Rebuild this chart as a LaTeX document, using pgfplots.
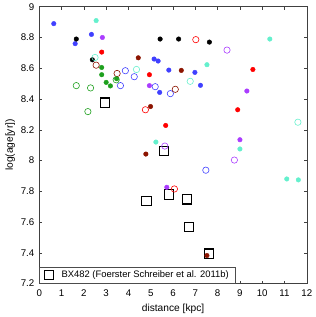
\documentclass[border=0pt]{standalone}
\usepackage{pgfplots}
\pgfplotsset{compat=1.18}
\usepackage{fontspec}
\setmainfont{Liberation Sans}
\definecolor{mblue}{RGB}{64,64,255}
\definecolor{mcyan}{RGB}{100,240,205}
\definecolor{mpurple}{RGB}{170,60,255}
\definecolor{mred}{RGB}{255,0,0}
\definecolor{mbrown}{RGB}{140,20,0}
\definecolor{mgreen}{RGB}{30,160,30}
\begin{document}
\begin{tikzpicture}
\begin{axis}[name=ax,
  scale only axis, width=269bp, height=278.3bp,
  xmin=0, xmax=12, ymin=7.2, ymax=9,
  xtick={0,1,...,12}, ytick={7.2,7.4,...,9.01},
  /pgf/number format/assume math mode=true,
  tick align=inside, tick pos=both,
  major tick length=3bp,
  axis line style={black!75, line width=0.6pt},
  tick style={black!75, line width=0.5pt},
  ticklabel style={font=\fontsize{9.8}{11}\selectfont},
  xticklabel style={yshift=-2.5bp},
  yticklabel style={xshift=-1.5bp, /pgf/number format/.cd, fixed, precision=1},
  label style={font=\fontsize{10.3}{12}\selectfont},
  xlabel={distance [kpc]}, ylabel={log(age[yr])},
  xlabel style={yshift=-1bp},
  ylabel style={yshift=-1bp},
  legend style={at={(0,0)}, anchor=south west, draw=black!70, line width=0.5pt,
    font=\fontsize{9.5}{10.5}\selectfont, inner xsep=5bp, inner ysep=2bp,
    /tikz/every odd column/.append style={column sep=6bp}},
  legend cell align=left,
]
\addplot[only marks, mark=square, mark size=4.6bp, line width=1.1pt, black] coordinates {
(2.94,8.377)(5.60,8.06)(4.81,7.738)(5.82,7.779)(6.62,7.747)(6.71,7.566)(7.60,7.395)};
\addlegendentry{BX482 (Foerster Schreiber et al. 2011b)}
% filled
\addplot[forget plot, only marks, mark=*, mark size=2.3bp, mblue, mark options={draw=mblue, fill=mblue}] coordinates {
(0.65,8.89)(1.61,8.76)(2.34,8.82)(5.15,8.66)(5.33,8.647)(5.81,8.588)(5.40,8.443)(6.98,8.573)(7.23,8.489)};
\addplot[forget plot, only marks, mark=*, mark size=2.3bp, mcyan, mark options={draw=mcyan, fill=mcyan}] coordinates {
(2.55,8.91)(10.34,8.79)(7.52,8.623)(5.23,8.12)(9.0,8.075)(11.1,7.88)(11.62,7.874)};
\addplot[forget plot, only marks, mark=*, mark size=2.3bp, black, mark options={draw=black, fill=black}] coordinates {
(1.66,8.79)(2.38,8.655)(5.42,8.79)(6.25,8.79)(7.63,8.77)};
\addplot[forget plot, only marks, mark=*, mark size=2.3bp, mpurple, mark options={draw=mpurple, fill=mpurple}] coordinates {
(2.83,8.80)(4.94,8.487)(9.31,8.452)(9.0,8.135)(5.72,7.826)};
\addplot[forget plot, only marks, mark=*, mark size=2.3bp, mred, mark options={draw=mred, fill=mred}] coordinates {
(2.80,8.705)(4.94,8.558)(9.58,8.592)(8.90,8.33)(5.67,8.228)};
\addplot[forget plot, only marks, mark=*, mark size=2.3bp, mbrown, mark options={draw=mbrown, fill=mbrown}] coordinates {
(4.44,8.668)(4.99,8.351)(6.37,8.586)(4.78,8.042)(7.52,7.382)};
\addplot[forget plot, only marks, mark=*, mark size=2.3bp, mgreen, mark options={draw=mgreen, fill=mgreen}] coordinates {
(2.80,8.605)(2.80,8.558)(3.47,8.532)(3.0,8.508)(3.19,8.485)};
% open
\addplot[forget plot, only marks, mark=o, mark size=3.2bp, line width=0.6pt, mblue] coordinates {
(3.86,8.584)(3.64,8.487)(4.26,8.545)(5.20,8.48)(5.88,8.435)(7.47,7.937)};
\addplot[forget plot, only marks, mark=o, mark size=3.2bp, line width=0.6pt, mcyan] coordinates {
(2.50,8.67)(4.36,8.592)(6.77,8.515)(11.6,8.249)};
\addplot[forget plot, only marks, mark=o, mark size=3.2bp, line width=0.6pt, mpurple] coordinates {
(8.42,8.718)(5.63,8.094)(8.75,8.003)};
\addplot[forget plot, only marks, mark=o, mark size=3.2bp, line width=0.6pt, mred] coordinates {
(7.02,8.786)(4.76,8.33)(6.06,7.815)};
\addplot[forget plot, only marks, mark=o, mark size=3.2bp, line width=0.6pt, mbrown] coordinates {
(2.55,8.62)(3.49,8.566)(6.10,8.463)};
\addplot[forget plot, only marks, mark=o, mark size=3.2bp, line width=0.6pt, mgreen] coordinates {
(1.66,8.487)(2.30,8.472)(2.18,8.318)(3.45,8.525)};
\end{axis}
\path ([xshift=-39.5bp,yshift=-33bp]ax.south west) rectangle ([xshift=7.5bp,yshift=5.7bp]ax.north east);
\end{tikzpicture}
\end{document}
